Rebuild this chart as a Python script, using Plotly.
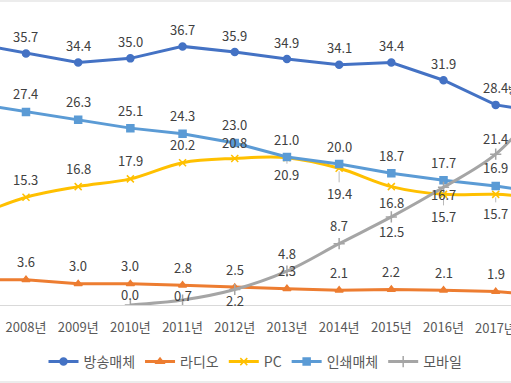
import plotly.graph_objects as go

years = list(range(2007, 2019))
tick_years = list(range(2008, 2018))
tick_labels = [f"{y}년" for y in tick_years]

broadcast = [37.1, 35.7, 34.4, 35.0, 36.7, 35.9, 34.9, 34.1, 34.4, 31.9, 28.4, 27.3]
radio = [3.6, 3.6, 3.0, 3.0, 2.8, 2.5, 2.3, 2.1, 2.2, 2.1, 1.9, 1.4]
pc = [12.5, 15.3, 16.8, 17.9, 20.2, 20.8, 20.9, 19.4, 16.8, 15.7, 15.7, 15.2]
print_media = [28.6, 27.4, 26.3, 25.1, 24.3, 23.0, 21.0, 20.0, 18.7, 17.7, 16.9, 15.8]
mobile = [None, None, None, 0.0, 0.7, 2.2, 4.8, 8.7, 12.5, 16.7, 21.4, 29.5]

series_names = ["방송매체", "라디오", "PC", "인쇄매체", "모바일"]

# styling (not data)
styles = {
    "방송매체": dict(color="#4472C4", symbol="circle", size=7, shape="linear", width=3),
    "라디오": dict(color="#ED7D31", symbol="triangle-up", size=7, shape="linear", width=3),
    "PC": dict(color="#FFC000", symbol="x-thin", size=7, shape="spline", width=3),
    "인쇄매체": dict(color="#5B9BD5", symbol="square", size=7, shape="linear", width=3),
    "모바일": dict(color="#A5A5A5", symbol="cross-thin", size=8, shape="spline", width=3),
}
# label vertical offsets in px (negative = above), None = no label
label_offsets = {
    "방송매체": [None] + [-17] * 10 + [None],
    "라디오": [None] + [-18] * 10 + [None],
    "PC": [None, -18, -18, -18, -18, -16, 17, 25, 16, 22, 19, None],
    "인쇄매체": [None] + [-18] * 10 + [None],
    "모바일": [None, None, None, -11, -5, 11, -18, -18, 15, 7, -16, None],
}
leaders = {
    "PC": [False, False, False, False, False, False, True, True, False, True, True, False],
}

data = {
    "방송매체": broadcast,
    "라디오": radio,
    "PC": pc,
    "인쇄매체": print_media,
    "모바일": mobile,
}

fig = go.Figure()
annotations = []
label_font = dict(family="Noto Sans CJK KR, Noto Sans, sans-serif", size=13, color="#404040")
tick_font = dict(family="Noto Sans CJK KR, sans-serif", size=13, color="#595959")

for name in series_names:
    st = styles[name]
    vals = data[name]
    fig.add_trace(go.Scatter(
        x=years, y=vals, name=name, mode="lines+markers",
        line=dict(color=st["color"], width=st["width"], shape=st["shape"]),
        marker=dict(symbol=st["symbol"], size=st["size"], color=st["color"],
                    line=dict(color=st["color"], width=1.5)),
        connectgaps=False,
    ))
    offs = label_offsets[name]
    lead = leaders.get(name, [False] * len(years))
    for i, (yr, v) in enumerate(zip(years, vals)):
        if v is None or offs[i] is None:
            continue
        if lead[i]:
            annotations.append(dict(
                x=yr, y=v, xref="x", yref="y", text=f"{v:.1f}",
                showarrow=True, arrowhead=0, arrowwidth=0.8, arrowcolor="#A6A6A6",
                ax=0, ay=offs[i], standoff=3, font=label_font,
            ))
        else:
            annotations.append(dict(
                x=yr, y=v, xref="x", yref="y", text=f"{v:.1f}",
                showarrow=False, yshift=-offs[i], font=label_font,
            ))

# last category label sits at the right edge and is cut by the frame
annotations.append(dict(
    x=tick_years[-1], y=(305 - 327) / 303, xref="x", yref="paper", text=tick_labels[-1],
    showarrow=False, xanchor="center", yanchor="middle", font=tick_font,
))

# partially visible series-name label at right edge
annotations.append(dict(
    x=506 / 511, y=(305 - 89) / 303, xref="paper", yref="paper", text="방송매체",
    showarrow=False, xanchor="left", yanchor="middle",
    font=dict(family="Noto Sans CJK KR, sans-serif", size=10, color="#404040"),
))

fig.update_layout(
    width=511, height=383,
    margin=dict(l=0, r=0, t=2, b=78, autoexpand=False),
    paper_bgcolor="white", plot_bgcolor="white",
    showlegend=True,
    legend=dict(
        orientation="h", x=0.5, xanchor="center", y=(305 - 362) / 303, yanchor="middle",
        font=dict(family="Noto Sans CJK KR, sans-serif", size=14, color="#595959"),
        itemwidth=30, bgcolor="rgba(0,0,0,0)",
    ),
    annotations=annotations,
    shapes=[
        dict(type="line", xref="paper", yref="paper", x0=0, x1=1,
             y0=(305 - 1) / 303, y1=(305 - 1) / 303, line=dict(color="#D9D9D9", width=1)),
        dict(type="line", xref="paper", yref="paper", x0=0, x1=1,
             y0=(305 - 382) / 303, y1=(305 - 382) / 303, line=dict(color="#D9D9D9", width=1)),
    ],
)
fig.update_xaxes(
    range=[2007.502, 2017.293], tickvals=tick_years[:-1], ticktext=tick_labels[:-1],
    showgrid=False, zeroline=False, showline=True, linecolor="#D9D9D9", linewidth=1,
    ticks="", ticklabelstandoff=10, automargin=False,
    tickfont=tick_font,
)
fig.update_yaxes(
    range=[0, 43], visible=False, showgrid=False, zeroline=False, automargin=False,
)

fig.write_html(
    "out.html",
    config={"displayModeBar": False},
    post_script="document.body.style.margin='0';document.body.style.overflow='hidden';",
)
